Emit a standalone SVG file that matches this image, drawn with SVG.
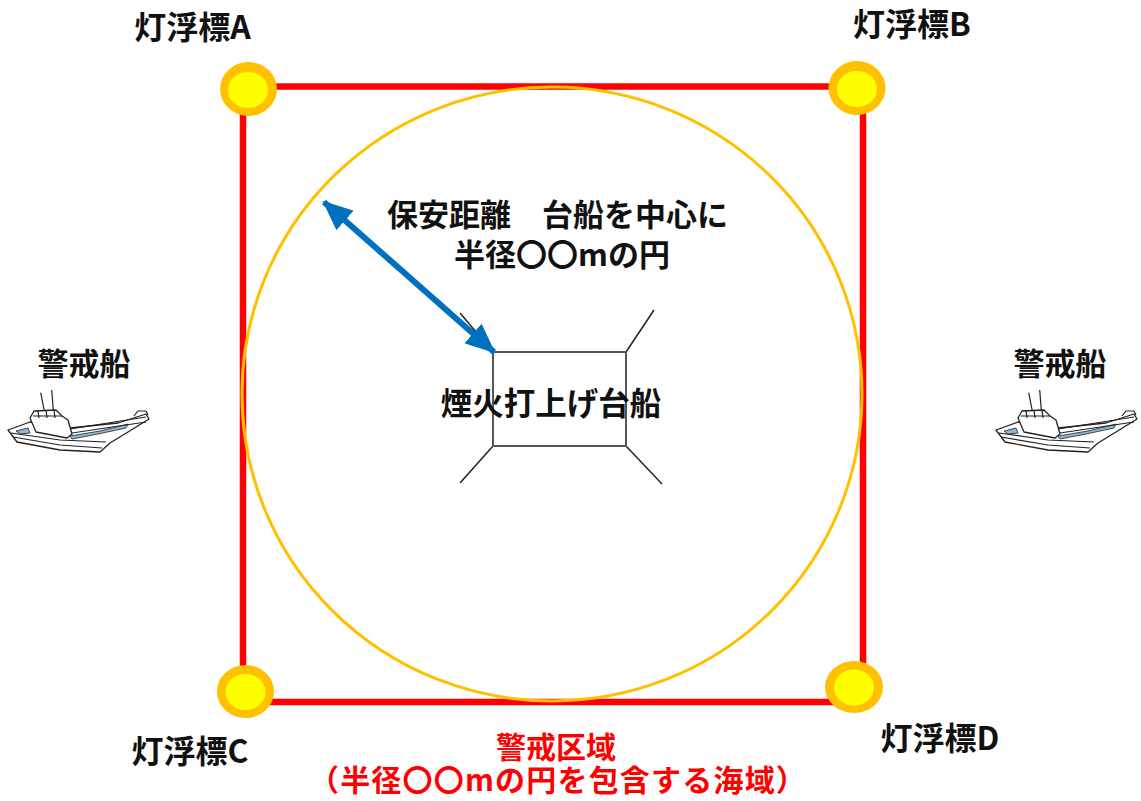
<svg xmlns="http://www.w3.org/2000/svg" xmlns:xlink="http://www.w3.org/1999/xlink" width="1141" height="801" viewBox="0 0 1141 801">
  <style>
    .lbl { font-family: "Noto Sans CJK JP", "Noto Sans", sans-serif; font-weight: bold; fill: #111; text-anchor: middle; }
    .red { fill: #FF0000; }
    .buoy-out { fill: #FFC000; }
    .buoy-in { fill: #FFFF00; }
    .barge { fill: #fff; stroke: #555; stroke-width: 2; }
    .rope { stroke: #222; stroke-width: 1.5; fill: none; }
    .boat { fill: #fff; stroke: #222; stroke-width: 1.3; stroke-linejoin: round; }
    .boat-line { fill: none; stroke: #222; stroke-width: 1.2; }
    .boat-blue { fill: #8CB8D8; stroke: #222; stroke-width: 0.8; }
  </style>
  <defs>
    <marker id="head" viewBox="0 0 30 26" refX="28" refY="13" markerWidth="30" markerHeight="26" markerUnits="userSpaceOnUse" orient="auto-start-reverse">
      <path d="M0,0 L30,13 L0,26 Z" fill="#0070C0"/>
    </marker>
    <!-- small line-art patrol boat -->
    <g id="boat-art">
      <path class="boat" d="M8,430 L30,422 L70,428 L118,423 L146,414 L149,419 L128,432 L110,443 L100,452 L60,450 L17,442 Z"/>
      <path class="boat-line" d="M13,437 L60,445 L102,448"/>
      <path class="boat-line" d="M11,433 L60,440 L106,442"/>
      <path class="boat" d="M30,418 L34,411 L56,410 L62,416 L68,420 L72,434 L67,438 L36,432 Z"/>
      <path class="boat-line" d="M33,416 L62,416 M38,411 L39,418 M46,410 L47,418 M54,410 L55,418"/>
      <path class="boat-line" d="M40.7,392.7 L44.3,411 M51.7,390 L53.3,410"/>
      <path class="boat-blue" d="M16,431 L28,428 L30,433 L20,434 Z"/>
      <path class="boat-blue" d="M70,436 L100,431 L128,424 L126,428 L98,434 L72,439 Z"/>
      <path class="boat-line" d="M70,429 L146,417 M72,433 L146,422"/>
      <path class="boat-line" d="M134,416 L138,411 L146,411 L148,415"/>
    </g>
  </defs>

  <!-- watch zone boundary -->
  <g id="zone">
    <rect x="243" y="86.5" width="620" height="615.5" fill="none" stroke="#FF0000" stroke-width="6.5"/>
  </g>

  <!-- safety-distance circle -->
  <g id="safety-circle">
    <ellipse cx="552" cy="394" rx="310" ry="307" fill="none" stroke="#FFC000" stroke-width="3"/>
  </g>

  <!-- fireworks barge -->
  <g id="barge">
    <line class="rope" x1="460" y1="313" x2="493" y2="352"/>
    <line class="rope" x1="626" y1="352" x2="654" y2="310"/>
    <line class="rope" x1="493" y1="446" x2="460" y2="483"/>
    <line class="rope" x1="626" y1="446" x2="662" y2="484"/>
    <rect class="barge" x="493" y="352" width="133" height="94"/>
    <text class="lbl" x="551" y="415" font-size="31.5">煙火打上げ台船</text>
  </g>

  <!-- connectors -->
  <g id="connectors">
    <line x1="324" y1="202" x2="494" y2="352" stroke="#0070C0" stroke-width="6" marker-start="url(#head)" marker-end="url(#head)"/>
  </g>

  <g id="distance-label">
    <text class="lbl" font-size="31">
      <tspan x="561" y="226">保安距離　台船を中心に</tspan>
      <tspan x="562" y="266">半径〇〇mの円</tspan>
    </text>
  </g>

  <!-- light buoys -->
  <g id="buoy-a">
    <ellipse class="buoy-out" cx="248.5" cy="89" rx="28.5" ry="27"/>
    <ellipse class="buoy-in" cx="248" cy="90" rx="20" ry="18"/>
    <text class="lbl" x="192.5" y="39" font-size="32">灯浮標A</text>
  </g>
  <g id="buoy-b">
    <ellipse class="buoy-out" cx="857" cy="88" rx="28.5" ry="27"/>
    <ellipse class="buoy-in" cx="857" cy="89" rx="20" ry="18"/>
    <text class="lbl" x="912" y="36" font-size="32">灯浮標B</text>
  </g>
  <g id="buoy-c">
    <ellipse class="buoy-out" cx="245.5" cy="691.5" rx="28.5" ry="26.5"/>
    <ellipse class="buoy-in" cx="245.5" cy="692" rx="20" ry="18"/>
    <text class="lbl" x="190" y="763" font-size="32">灯浮標C</text>
  </g>
  <g id="buoy-d">
    <ellipse class="buoy-out" cx="854" cy="687" rx="29" ry="26"/>
    <ellipse class="buoy-in" cx="854" cy="687.5" rx="20" ry="18"/>
    <text class="lbl" x="940" y="750" font-size="32">灯浮標D</text>
  </g>

  <!-- patrol boats -->
  <g id="patrol-left">
    <use xlink:href="#boat-art"/>
    <text class="lbl" x="84" y="375" font-size="31">警戒船</text>
  </g>
  <g id="patrol-right">
    <use xlink:href="#boat-art" transform="translate(988,0)"/>
    <text class="lbl" x="1060" y="375" font-size="31">警戒船</text>
  </g>

  <!-- zone caption -->
  <g id="zone-label">
    <text class="lbl red" font-size="30">
      <tspan x="559.5" y="758">警戒区域</tspan>
      <tspan x="558" y="791" letter-spacing="1.2">（半径〇〇mの円を包含する海域）</tspan>
    </text>
  </g>
</svg>
